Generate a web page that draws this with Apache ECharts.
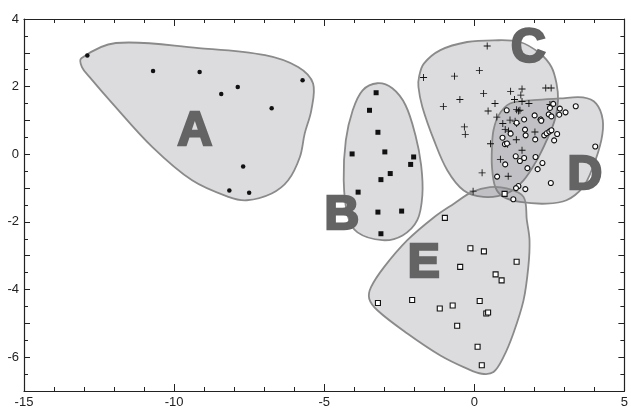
<!DOCTYPE html>
<html>
<head>
<meta charset="utf-8">
<script src="https://cdn.jsdelivr.net/npm/echarts@6/dist/echarts.min.js"></script>
<style>
  html, body { margin: 0; padding: 0; background: #fff; }
  #chart { width: 631px; height: 412px; }
</style>
</head>
<body>
<div id="chart"></div>
<script>
// Cluster members (x, y)
const groupA = [[-12.89,2.92],[-10.70,2.46],[-9.15,2.43],[-8.43,1.78],[-7.88,1.99],[-5.72,2.19],[-6.75,1.36],[-7.70,-0.36],[-8.16,-1.07],[-7.50,-1.14]];
const groupB = [[-3.27,1.82],[-3.49,1.30],[-3.21,0.65],[-4.07,0.01],[-2.98,0.07],[-2.02,-0.08],[-2.12,-0.30],[-2.80,-0.57],[-3.11,-0.75],[-3.87,-1.12],[-3.21,-1.71],[-2.42,-1.68],[-3.11,-2.35]];
const groupC = [[-1.69,2.27],[-0.66,2.31],[0.17,2.48],[0.43,3.20],[-0.48,1.62],[-1.03,1.41],[0.31,1.80],[1.21,1.86],[1.59,1.93],[1.55,1.75],[1.34,1.62],[1.59,1.56],[1.82,1.50],[2.38,1.96],[2.56,1.96],[0.69,1.50],[0.46,1.28],[2.52,1.47],[1.41,1.32],[1.52,1.30],[0.75,1.10],[1.19,1.01],[1.36,0.98],[1.41,0.91],[0.95,0.91],[1.03,0.73],[1.14,0.69],[-0.33,0.81],[-0.30,0.59],[2.02,0.66],[1.40,0.43],[1.11,0.30],[0.54,0.31],[1.59,0.12],[0.87,-0.15],[1.13,-0.65],[0.26,-0.55],[-0.04,-1.09],[2.22,1.02],[1.47,1.28]];
const groupD = [[1.08,1.30],[2.01,1.15],[2.21,1.03],[2.23,0.99],[2.48,1.18],[2.57,1.12],[2.63,1.49],[2.52,1.37],[2.85,1.35],[3.04,1.24],[2.83,1.17],[3.38,1.42],[1.66,1.03],[1.41,0.93],[1.21,0.61],[0.94,0.49],[1.71,0.56],[1.69,0.73],[2.03,0.44],[2.33,0.56],[2.41,0.62],[2.50,0.67],[2.57,0.71],[2.76,0.60],[2.66,0.41],[1.02,0.30],[1.09,0.32],[4.03,0.23],[1.38,-0.06],[1.66,-0.11],[1.52,-0.20],[2.04,-0.08],[2.27,-0.26],[1.03,-0.30],[1.77,-0.41],[2.11,-0.44],[0.76,-0.66],[2.55,-0.85],[1.47,-0.94],[1.39,-1.00],[1.70,-1.03],[1.30,-1.33]];
const groupE = [[-0.98,-1.88],[-0.13,-2.78],[0.32,-2.87],[1.41,-3.18],[-0.47,-3.33],[0.71,-3.55],[0.91,-3.73],[-3.21,-4.40],[-2.07,-4.31],[-1.15,-4.56],[-0.72,-4.47],[0.18,-4.34],[0.40,-4.71],[0.46,-4.68],[-0.57,-5.07],[0.11,-5.69],[0.25,-6.24],[1.01,-1.17]];

// Enclosing outlines of each cluster (x, y)
const hullA = [[-13.09,2.84],[-13.07,2.58],[-12.82,2.29],[-12.05,1.50],[-10.73,0.22],[-9.40,-0.77],[-8.19,-1.26],[-7.58,-1.36],[-6.75,-1.16],[-6.20,-0.77],[-5.81,-0.08],[-5.65,0.61],[-5.43,1.30],[-5.37,2.09],[-5.87,2.58],[-6.97,2.93],[-9.18,3.14],[-11.94,3.29]];
const hullB = [[-3.23,2.10],[-2.73,1.95],[-2.29,1.45],[-1.96,0.56],[-1.77,-0.33],[-1.73,-1.21],[-1.90,-1.95],[-2.39,-2.40],[-3.06,-2.54],[-3.89,-2.31],[-4.22,-1.80],[-4.35,-0.77],[-4.28,0.41],[-4.05,1.30],[-3.72,1.89]];
const hullC = [[-1.84,2.29],[-1.68,2.68],[-1.13,3.08],[-0.24,3.32],[0.64,3.37],[1.52,3.32],[2.19,2.98],[2.57,2.58],[2.74,2.09],[2.79,1.60],[2.68,1.01],[2.41,0.41],[2.08,-0.18],[1.64,-0.77],[1.08,-1.16],[0.31,-1.26],[-0.35,-1.07],[-0.90,-0.47],[-1.34,0.41],[-1.73,1.40],[-1.86,1.99]];
const hullD = [[0.59,0.22],[0.64,0.71],[0.81,1.15],[1.19,1.50],[1.97,1.60],[2.85,1.65],[3.62,1.68],[4.06,1.50],[4.28,1.01],[4.23,0.41],[3.95,-0.38],[3.62,-0.97],[3.07,-1.36],[2.41,-1.46],[1.52,-1.41],[0.97,-1.26],[0.70,-0.97],[0.59,-0.38]];
const hullE = [[0.52,-0.97],[1.08,-1.01],[1.64,-1.26],[1.75,-1.95],[1.84,-2.54],[1.80,-3.33],[1.64,-4.32],[1.30,-5.30],[0.97,-6.00],[0.64,-6.44],[0.25,-6.49],[-0.24,-6.34],[-1.13,-5.95],[-2.23,-5.30],[-3.22,-4.62],[-3.50,-4.27],[-3.44,-3.93],[-3.00,-3.33],[-2.23,-2.54],[-1.34,-1.86],[-0.68,-1.46],[-0.08,-1.12]];

// Cluster names and where they are written
const clusterNames = ['A', 'B', 'C', 'D', 'E'];
const namePositions = [[-9.31,0.68],[-4.41,-1.83],[1.80,3.11],[3.68,-0.65],[-1.68,-3.25]];

const tickFont = 'Liberation Sans Narrow, Arial Narrow, Liberation Sans, sans-serif';
const ink = '#222';
const nameGray = '#646464';

function hull(points) {
  return {
    type: 'custom',
    coordinateSystem: 'cartesian2d',
    silent: true,
    clip: false,
    z: 1,
    data: [points[0]],
    renderItem: function (params, api) {
      const pts = points.map(function (p) { return api.coord(p); });
      return {
        type: 'polygon',
        shape: { points: pts, smooth: 0.35 },
        style: { fill: 'rgba(110,110,118,0.24)', stroke: '#8a8a8a', lineWidth: 1.8 }
      };
    }
  };
}

function members(data, symbol, size, fill, border) {
  return {
    type: 'scatter',
    data: data,
    symbol: symbol,
    symbolSize: size,
    z: 3,
    silent: true,
    itemStyle: { color: fill, borderColor: border || fill, borderWidth: border ? 1.1 : 0, opacity: 1 }
  };
}

// thin "+" marker
const plusPath = 'path://M3.5,0h1v3.5h3.5v1h-3.5v3.5h-1v-3.5h-3.5v-1h3.5z';

function xAxisDef(pos, labels) {
  return {
    type: 'value', position: pos, min: -15, max: 5, interval: 5,
    axisLine: { onZero: false, lineStyle: { color: ink, width: 1.2 } },
    axisTick: { inside: true, length: 7, lineStyle: { color: ink } },
    minorTick: { show: true, splitNumber: 5, length: 4, lineStyle: { color: ink } },
    splitLine: { show: false },
    axisLabel: { show: labels, color: ink, fontSize: 13, fontFamily: tickFont, margin: 5 }
  };
}
function yAxisDef(pos, labels) {
  return {
    type: 'value', position: pos, min: -7, max: 4, interval: 1,
    axisLine: { onZero: false, lineStyle: { color: ink, width: 1.2 } },
    axisTick: { inside: true, length: 6, lineStyle: { color: ink } },
    minorTick: { show: true, splitNumber: 2, length: 4, lineStyle: { color: ink } },
    splitLine: { show: false },
    axisLabel: {
      show: labels, color: ink, fontSize: 13, fontFamily: tickFont, margin: 5,
      interval: 0, hideOverlap: false,
      formatter: function (v) { return v % 2 === 0 ? String(v) : ''; }
    }
  };
}

const chart = echarts.init(document.getElementById('chart'), null, { renderer: 'canvas' });
chart.setOption({
  animation: false,
  backgroundColor: '#fff',
  grid: { left: 24, right: 3, top: 19, bottom: 21, containLabel: false },
  xAxis: [xAxisDef('bottom', true), xAxisDef('top', false)],
  yAxis: [yAxisDef('left', true), yAxisDef('right', false)],
  series: [
    hull(hullA), hull(hullB), hull(hullC), hull(hullD), hull(hullE),
    members(groupA, 'circle', 4.5, '#111'),
    members(groupB, 'rect', 5, '#111'),
    members(groupC, plusPath, 7, '#111'),
    members(groupD, 'circle', 5, '#fff', '#111'),
    members(groupE, 'rect', 5, '#fff', '#111'),
    {
      // big cluster letters
      type: 'custom',
      coordinateSystem: 'cartesian2d',
      silent: true,
      clip: false,
      z: 5,
      data: namePositions,
      renderItem: function (params, api) {
        const pt = api.coord([api.value(0), api.value(1)]);
        return {
          type: 'text',
          x: pt[0], y: pt[1],
          style: {
            text: clusterNames[params.dataIndex],
            fill: nameGray,
            stroke: nameGray,
            lineWidth: 2.5,
            font: 'bold 48px "Liberation Sans", Arial, sans-serif',
            align: 'center',
            verticalAlign: 'middle'
          }
        };
      }
    }
  ]
});
</script>
</body>
</html>
